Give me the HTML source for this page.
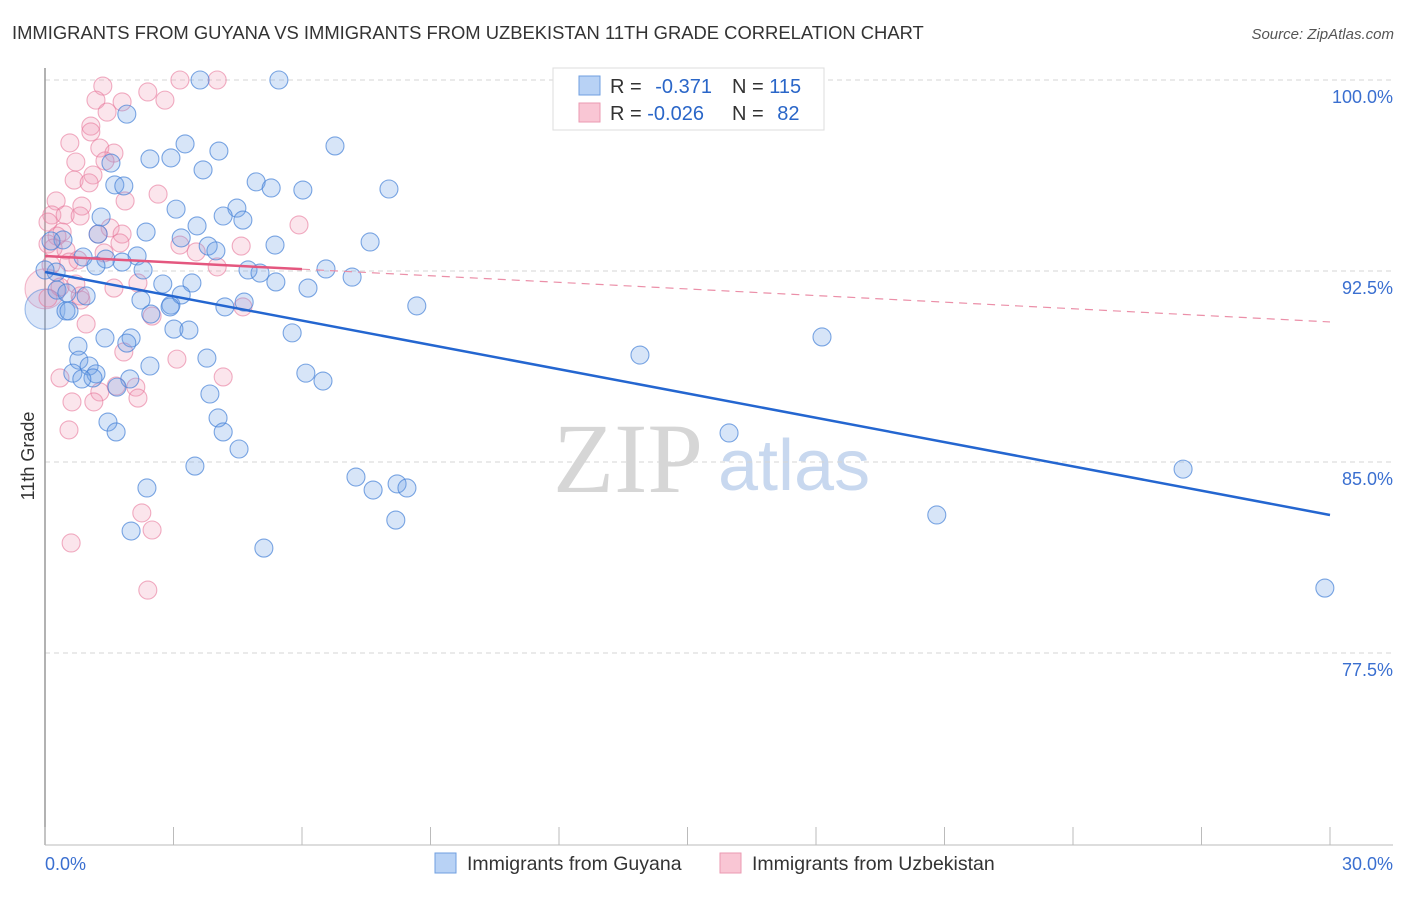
<!DOCTYPE html>
<html><head><meta charset="utf-8"><style>
body{margin:0;background:#fff;font-family:"Liberation Sans",sans-serif}
</style></head><body>
<svg width="1406" height="892" viewBox="0 0 1406 892" font-family="Liberation Sans, sans-serif">
<text x="12" y="39" font-size="18.4" fill="#333">IMMIGRANTS FROM GUYANA VS IMMIGRANTS FROM UZBEKISTAN 11TH GRADE CORRELATION CHART</text>
<text x="1394" y="39" font-size="15" fill="#555" font-style="italic" text-anchor="end">Source: ZipAtlas.com</text>
<g>
<text x="553" y="492" font-size="100" fill="#d6d6d6" style="font-family:'Liberation Serif',serif">ZIP</text>
<text x="718" y="490" font-size="72" fill="#c8d8ef">atlas</text>
</g>
<g id="grid"></g>
<g id="axes"></g>
<g id="pts"></g>
<g id="trend"></g>
<text x="34" y="456" font-size="18" fill="#333" text-anchor="middle" transform="rotate(-90 34 456)">11th Grade</text>
<g>
<rect x="553" y="68" width="271" height="62" fill="#fff" stroke="#ddd"/>
<rect x="579" y="76" width="21" height="19" fill="#b8d2f5" stroke="#6f9fe0"/>
<rect x="579" y="103" width="21" height="19" fill="#f9c6d4" stroke="#eb9ab2"/>
<text x="610" y="93" font-size="20" fill="#333">R = <tspan fill="#2a66c8" dx="8">-0.371</tspan></text>
<text x="732" y="93" font-size="20" fill="#333">N = <tspan fill="#2a66c8">115</tspan></text>
<text x="610" y="120" font-size="20" fill="#333">R = <tspan fill="#2a66c8">-0.026</tspan></text>
<text x="732" y="120" font-size="20" fill="#333">N = <tspan fill="#2a66c8" dx="8">82</tspan></text>
</g>
<g>
<rect x="435" y="853" width="21" height="20" fill="#b8d2f5" stroke="#6f9fe0"/>
<text x="467" y="870" font-size="19.5" fill="#333">Immigrants from Guyana</text>
<rect x="720" y="853" width="21" height="20" fill="#f9c6d4" stroke="#eb9ab2"/>
<text x="752" y="870" font-size="19.5" fill="#333">Immigrants from Uzbekistan</text>
</g>
</svg>
<script>
const yTicks=[100,92.5,85,77.5];
const yTickLabels=["100.0%","92.5%","85.0%","77.5%"];
const xTicks=[0,3,6,9,12,15,18,21,24,27,30];
const xEndLabels=["0.0%","30.0%"];
const blueX=[3.62,5.46,1.91,6.77,3.27,4.06,2.45,2.94,1.54,3.69,4.93,1.63,1.84,5.28,6.02,8.03,3.06,4.48,1.31,4.16,3.55,4.62,2.36,1.24,3.18,3.81,5.37,7.59,3.99,0.42,0.14,2.15,1.42,1.80,0.89,1.19,2.29,4.74,5.02,6.56,7.17,0.26,0.0,3.43,2.75,5.39,6.14,0.28,0.51,0.96,2.24,2.94,3.18,4.20,4.65,2.92,2.47,0.49,0.56,8.68,3.01,3.36,5.77,2.01,1.40,0.77,1.91,0.79,3.78,13.89,18.14,1.03,2.45,0.65,1.19,1.12,0.86,1.98,1.68,6.09,6.49,3.85,1.47,4.04,1.66,4.16,4.53,3.50,2.38,7.26,7.66,8.22,8.45,15.97,26.57,20.82,8.19,2.01,5.11,29.88];
const blueY=[100.0,100.0,98.66,97.41,97.49,97.21,96.90,96.94,96.74,96.47,96.00,95.88,95.84,95.76,95.68,95.72,94.93,94.97,94.62,94.66,94.27,94.50,94.03,93.95,93.80,93.48,93.52,93.64,93.29,93.72,93.68,93.09,92.97,92.85,93.05,92.70,92.54,92.54,92.42,92.58,92.26,92.46,92.54,92.03,91.99,92.07,91.83,91.75,91.64,91.52,91.36,91.16,91.56,91.09,91.28,91.09,90.81,90.93,90.93,91.13,90.22,90.18,90.07,89.87,89.87,89.55,89.67,89.00,89.08,89.20,89.91,88.77,88.77,88.49,88.46,88.30,88.26,88.26,87.94,88.49,88.18,87.67,86.57,86.73,86.18,86.18,85.51,84.84,83.98,84.41,83.90,84.14,83.98,86.14,84.72,82.92,82.72,82.29,81.62,80.05];
const pinkX=[1.35,2.40,3.15,4.02,2.80,1.80,1.19,1.45,1.07,1.07,0.58,1.28,1.61,1.40,0.72,1.12,0.68,1.03,2.64,0.26,1.87,0.86,0.16,0.47,0.82,0.07,1.52,5.93,0.40,1.24,0.28,1.80,1.75,3.15,4.58,0.07,0.19,0.49,3.53,1.38,0.77,0.56,0.14,4.02,0.72,0.35,0.84,1.61,2.17,4.62,2.50,0.96,1.84,3.08,0.35,4.16,1.66,2.12,1.28,0.63,1.14,2.17,0.56,2.26,2.50,0.61,2.40,0.82,0.07];
const pinkY=[99.76,99.53,100.0,100.0,99.21,99.14,99.21,98.74,98.19,97.96,97.53,97.33,97.13,96.82,96.78,96.27,96.07,95.96,95.52,95.25,95.25,95.05,94.70,94.70,94.66,94.42,94.19,94.31,94.03,93.95,93.87,93.95,93.60,93.52,93.48,93.56,93.40,93.32,93.25,93.21,92.93,92.85,92.74,92.66,91.99,91.87,91.36,91.83,92.03,91.09,90.73,90.42,89.32,89.04,88.30,88.34,87.98,87.94,87.75,87.36,87.36,87.51,86.26,83.00,82.33,81.82,79.97,91.52,91.44];
const bigBlueX=[0.0], bigBlueY=[91.0];
const bigPinkX=[0.0], bigPinkY=[91.8];
const blueTrend=[[0,92.46],[30,82.92]];
const pinkTrend=[[0,93.09],[30,90.50]];
const pinkSolidEnd=6.0;

const NS="http://www.w3.org/2000/svg";
const X0=45,X1=1330,Y100=80,PX_PER=191/7.5;
function sx(v){return X0+(v/30)*(X1-X0);}
function sy(v){return Y100+(100-v)*PX_PER;}
function mk(tag,attrs,parent){const e=document.createElementNS(NS,tag);for(const k in attrs)e.setAttribute(k,attrs[k]);parent.appendChild(e);return e;}
const grid=document.getElementById('grid'),axes=document.getElementById('axes'),pts=document.getElementById('pts'),trend=document.getElementById('trend');
yTicks.forEach((t,i)=>{
  const l=mk('line',{x1:X0,x2:1393,y1:sy(t),y2:sy(t),stroke:'#d6d6d6','stroke-dasharray':'5,4'},grid);
  
  
  const tx=mk('text',{x:1393,y:sy(t)+23,'font-size':18,fill:'#3a6fd0','text-anchor':'end'},axes);
  tx.textContent=yTickLabels[i];
  
  
});
const ax=mk('line',{x1:X0,x2:X0,y1:68,y2:845,stroke:'#999','stroke-width':1.5},axes);


const bx=mk('line',{x1:X0,x2:1393,y1:845,y2:845,stroke:'#bbb'},axes);


xTicks.forEach(t=>{
  const l=mk('line',{x1:sx(t),x2:sx(t),y1:827,y2:845,stroke:'#bbb'},axes);
  
  
});
[[0,'start',X0],[1,'end',1393]].forEach(([i,a,x])=>{
  const tx=mk('text',{x:x,y:870,'font-size':18,fill:'#3a6fd0','text-anchor':a},axes);
  tx.textContent=xEndLabels[i];
  
  
});
function dots(xs,ys,r,fill,stroke,name){
  xs.forEach((x,i)=>{
    const c=mk('circle',{cx:sx(x),cy:sy(ys[i]),r:r,fill:fill,stroke:stroke,'stroke-width':1.1},pts);
    
    
  });
}
dots(bigPinkX,bigPinkY,20,'rgba(240,150,180,0.25)','rgba(232,120,155,0.5)','point-uzbekistan-large');
dots(bigBlueX,bigBlueY,20,'rgba(110,160,230,0.25)','rgba(70,130,215,0.5)','point-guyana-large');
dots(pinkX,pinkY,9,'rgba(240,150,180,0.25)','rgba(232,120,155,0.6)','point-uzbekistan');
dots(blueX,blueY,9,'rgba(110,160,230,0.28)','rgba(70,130,215,0.7)','point-guyana');
const bl=mk('line',{x1:sx(blueTrend[0][0]),y1:sy(blueTrend[0][1]),x2:sx(blueTrend[1][0]),y2:sy(blueTrend[1][1]),stroke:'#2466d0','stroke-width':2.5},trend);


const pm=pinkTrend[0][1]+(pinkTrend[1][1]-pinkTrend[0][1])*pinkSolidEnd/30;
const pl=mk('line',{x1:sx(0),y1:sy(pinkTrend[0][1]),x2:sx(pinkSolidEnd),y2:sy(pm),stroke:'#e4577f','stroke-width':2.5},trend);


const pd=mk('line',{x1:sx(pinkSolidEnd),y1:sy(pm),x2:sx(pinkTrend[1][0]),y2:sy(pinkTrend[1][1]),stroke:'#eb8fa8','stroke-width':1.2,'stroke-dasharray':'8,6'},trend);


</script>
</body></html>
